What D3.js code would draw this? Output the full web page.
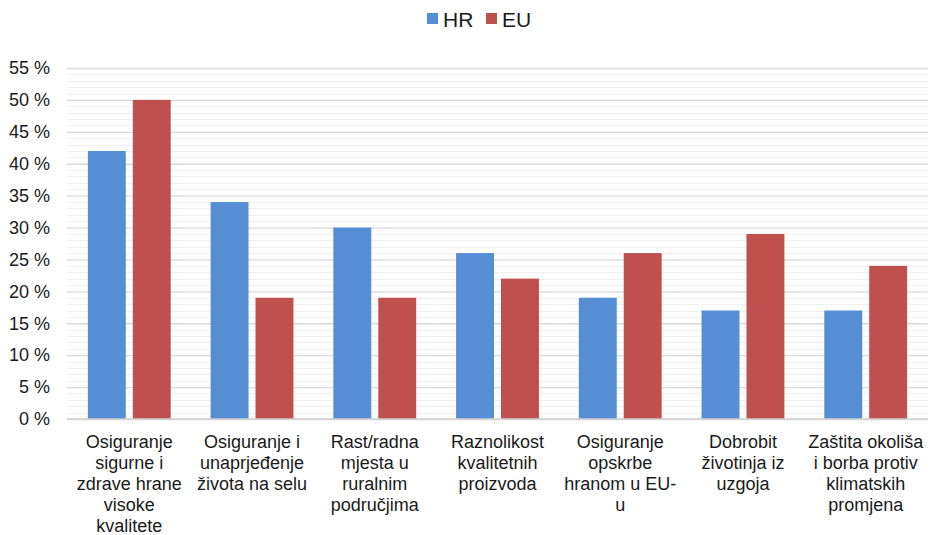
<!DOCTYPE html>
<html>
<head>
<meta charset="utf-8">
<script src="https://cdn.jsdelivr.net/npm/d3@7"></script>
<style>
  body { margin: 0; background: #fff; }
  text { font-family: "Liberation Sans", Arial, sans-serif; fill: #1a1a1a; }
</style>
</head>
<body>
<div id="vis"></div>
<script>
// data
let categories = [
  ["Osiguranje", "sigurne i", "zdrave hrane", "visoke", "kvalitete"],
  ["Osiguranje i", "unaprjeđenje", "života na selu"],
  ["Rast/radna", "mjesta u", "ruralnim", "područjima"],
  ["Raznolikost", "kvalitetnih", "proizvoda"],
  ["Osiguranje", "opskrbe", "hranom u EU-", "u"],
  ["Dobrobit", "životinja iz", "uzgoja"],
  ["Zaštita okoliša", "i borba protiv", "klimatskih", "promjena"]
];
let seriesNames = ["HR", "EU"];
let hrValues = [42, 34, 30, 26, 19, 17, 17];
let euValues = [50, 19, 19, 22, 26, 29, 24];
let yTicks = [0, 5, 10, 15, 20, 25, 30, 35, 40, 45, 50, 55];

let colors = { HR: "#558ed5", EU: "#c0504d" };

let W = 929, H = 535;
let margin = { top: 68, left: 67, right: 1, bottom: 116 };

let svg = d3.select("#vis").append("svg")
  .attr("width", W)
  .attr("height", H);

let x0 = d3.scaleBand()
  .domain(d3.range(categories.length))
  .range([margin.left, W - margin.right])
  .paddingInner(0.325)
  .paddingOuter(0.17);

let x1 = d3.scaleBand()
  .domain(seriesNames)
  .range([0, x0.bandwidth()])
  .paddingInner(0.156);

let y = d3.scaleLinear()
  .domain([0, 55])
  .range([H - margin.bottom, margin.top]);

// minor grid (1%)
svg.append("g")
  .selectAll("line")
  .data(d3.range(0, 56).filter(v => v % 5 !== 0))
  .enter().append("line")
  .attr("x1", margin.left).attr("x2", W - margin.right)
  .attr("y1", d => Math.round(y(d)) + 0.5).attr("y2", d => Math.round(y(d)) + 0.5)
  .attr("stroke", "#f0f0f0")
  .attr("stroke-width", 1);

// major grid
let yAxis = d3.axisLeft(y)
  .tickValues(yTicks)
  .tickSize(-(W - margin.left - margin.right))
  .tickFormat(d => d + " %");

let gy = svg.append("g")
  .attr("transform", `translate(${margin.left},0)`)
  .call(yAxis);
gy.select(".domain").remove();
gy.selectAll(".tick line").attr("stroke", "#d9d9d9").attr("stroke-width", 1.3);
gy.selectAll(".tick text")
  .attr("x", -17)
  .style("font-size", "18px")
  .style("font-family", "'Liberation Sans', Arial, sans-serif")
  .attr("fill", "#1a1a1a");

// bars
let rows = categories.map((c, i) => ({ i: i, HR: hrValues[i], EU: euValues[i] }));

let groups = svg.selectAll(".grp")
  .data(rows)
  .enter().append("g")
  .attr("class", "grp")
  .attr("transform", d => `translate(${x0(d.i)},0)`);

groups.selectAll("rect")
  .data(d => seriesNames.map(k => ({ key: k, value: d[k] })))
  .enter().append("rect")
  .attr("x", d => x1(d.key))
  .attr("y", d => y(d.value))
  .attr("width", x1.bandwidth())
  .attr("height", d => y(0) - y(d.value))
  .attr("fill", d => colors[d.key]);

// baseline
svg.append("line")
  .attr("x1", margin.left).attr("x2", W - margin.right)
  .attr("y1", y(0)).attr("y2", y(0))
  .attr("stroke", "#d0d0d0")
  .attr("stroke-width", 1.5);

// category labels
let labels = svg.selectAll(".cat")
  .data(categories)
  .enter().append("text")
  .attr("class", "cat")
  .attr("text-anchor", "middle")
  .style("font-size", "18px")
  .attr("transform", (d, i) => `translate(${x0(i) + x0.bandwidth() / 2},${y(0) + 29})`);

labels.selectAll("tspan")
  .data(d => d)
  .enter().append("tspan")
  .attr("x", 0)
  .attr("dy", (d, i) => i === 0 ? 0 : 21)
  .text(d => d);

// legend
let legend = svg.append("g").attr("transform", "translate(427,19)");
let legendX = [0, 59];
seriesNames.forEach((s, i) => {
  legend.append("rect")
    .attr("x", legendX[i]).attr("y", -6)
    .attr("width", 11).attr("height", 11)
    .attr("fill", colors[s]);
  legend.append("text")
    .attr("x", legendX[i] + 16).attr("y", 0)
    .attr("dy", "0.36em")
    .style("font-size", "21px")
    .text(s);
});
</script>
</body>
</html>
